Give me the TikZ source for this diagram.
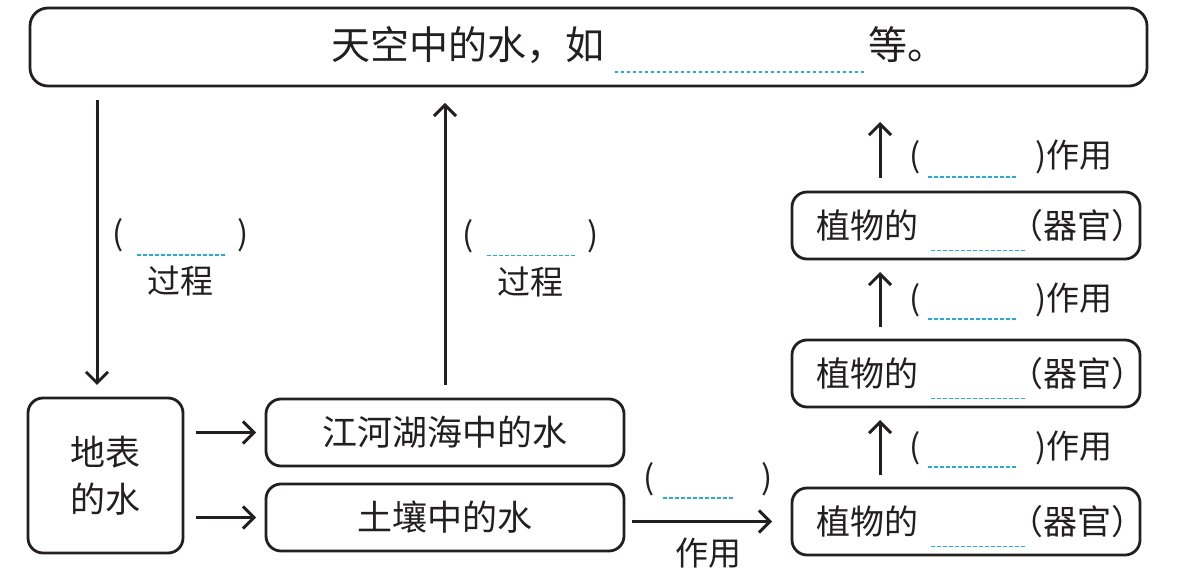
\documentclass[tikz,border=0pt]{standalone}
\usepackage{fontspec}
\setmainfont{Noto Sans CJK SC}
\usepackage{tikz}
\usetikzlibrary{arrows.meta, calc, positioning}

\definecolor{inkgray}{RGB}{35,31,32}
\definecolor{blankblue}{RGB}{40,170,220}

\newcommand{\blank}[2][13pt]{{\color{blankblue}\leaders\hbox to 6pt{\hss\smash{\rule[-#1]{3.5pt}{1.6pt}}\hss}\hskip #2\relax}}
\newcommand{\organ}{植物的\hspace{12pt}\blank{98pt}\hspace{-19pt}（器官\rlap{）}}

\begin{document}
\begin{tikzpicture}[x=1pt, y=1pt, node distance=18pt, outer sep=0pt, color=inkgray]

\tikzstyle{box}=[rectangle,draw,rounded corners=15pt,line width=2.8pt,inner sep=0pt,font=\fontsize{35}{47}\selectfont]
\tikzstyle{longbox}=[box,minimum width=358pt,minimum height=67pt]
\tikzstyle{organbox}=[box,minimum height=67pt,text width=300pt,inner xsep=24pt,align=left,font=\fontsize{34}{40}\selectfont]
\tikzstyle{flow}=[-{Straight Barb[length=11pt,width=22pt]},line width=3pt]
\tikzstyle{note}=[inner sep=0pt,align=center,font=\fontsize{33}{48}\selectfont]

\useasboundingbox (0,0) rectangle (1191,578);

\node[box,minimum width=1117pt,minimum height=78pt,rounded corners=18pt] (sky) at (588.5,531) {};
\node[inner sep=0pt,anchor=base,font=\fontsize{39}{44}\selectfont] (skytext) at (639,518) {天空中的水，如\hspace{8pt}\blank{256pt}等。};

\node[box,minimum width=155pt,minimum height=155pt,align=center] (ground) at (105.5,102.5) {地表\\的水};
\node[longbox] (soil) at (445,60.5) {土壤中的水};
\node[longbox] (river) [above = of soil] {江河湖海中的水};

\node[organbox] (root) at (966,56.5) {\organ};
\node[organbox] (stem) [above = 81pt of root] {\organ};
\node[organbox] (leaf) [above = 81pt of stem] {\organ};
\coordinate (leaftop) at ([xshift=-86pt,yshift=70pt]leaf.north);

\draw[flow,shorten <=14pt,shorten >=13pt] ([xshift=-8.5pt]ground.north |- sky.south) -- ([xshift=-8.5pt]ground.north)
  node[note,pos=0.55,right=15pt] (fall) {(\hspace{10pt}\blank[10pt]{98pt}\hspace{6pt})\\过程};
\draw[flow,shorten <=14pt,shorten >=17pt] (river.north) -- (river.north |- sky.south)
  node[note,pos=0.45,right=17pt] (rise) {(\hspace{10pt}\blank[10pt]{98pt}\hspace{6pt})\\过程};

\draw[flow,shorten <=13pt,shorten >=10pt] (ground.east |- river.west) -- (river.west);
\draw[flow,shorten <=13pt,shorten >=10pt] (ground.east |- soil.west) -- (soil.west);

\draw[flow,shorten <=8pt,shorten >=20pt] (soil.east |- root.west) -- (root.west)
  node[note,midway,above=26pt] (uptake) {(\hspace{6pt}\blank[10pt]{78pt}\hspace{22pt})}
  node[note,midway,below=16pt] (uptakeword) {作用};

\draw[flow,shorten <=13pt,shorten >=13pt] ([xshift=-86pt]root.north) -- ([xshift=-86pt]stem.south)
  node[note,midway,right=29pt] (lift1) {(\hspace{6pt}\blank[10pt]{95pt}\hspace{14pt})作用};
\draw[flow,shorten <=13pt,shorten >=13pt] ([xshift=-86pt]stem.north) -- ([xshift=-86pt]leaf.south)
  node[note,midway,right=29pt] (lift2) {(\hspace{6pt}\blank[10pt]{95pt}\hspace{14pt})作用};
\draw[flow,shorten <=14pt] ([xshift=-86pt]leaf.north) -- (leaftop)
  node[note,midway,right=29pt] (lift3) {(\hspace{6pt}\blank[10pt]{95pt}\hspace{14pt})作用};
\end{tikzpicture}
\end{document}
